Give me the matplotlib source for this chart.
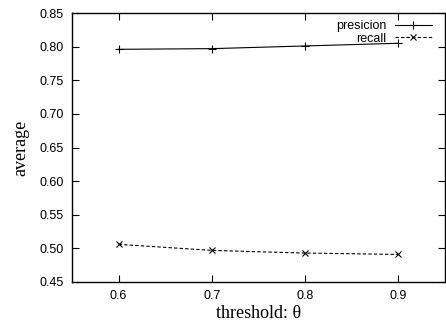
import matplotlib
matplotlib.use("Agg")
import matplotlib.pyplot as plt

thresholds = [0.6, 0.7, 0.8, 0.9]
precision = [0.796, 0.797, 0.801, 0.805]
recall = [0.506, 0.497, 0.493, 0.491]
xticks = [0.6, 0.7, 0.8, 0.9]
yticks = [0.45, 0.50, 0.55, 0.60, 0.65, 0.70, 0.75, 0.80, 0.85]

fig = plt.figure(figsize=(4.46, 3.27), dpi=100)
ax = fig.add_axes([72/446, 1-282/327, (445-72)/446, (282-13)/327])

ax.plot(thresholds, precision, color='black', lw=0.8, marker='+', ms=6, mew=0.8, label='presicion')
ax.plot(thresholds, recall, color='black', lw=0.8, ls=(0, (3, 2)), marker='x', ms=4.5, mew=0.8, label='recall')

ax.set_xlim(0.55, 0.95)
ax.set_ylim(0.45, 0.85)
ax.set_xticks(xticks)
ax.set_xticklabels([f"{v:.1f}" for v in xticks])
ax.set_yticks(yticks)
ax.set_yticklabels([f"{v:.2f}" for v in yticks])
ax.tick_params(direction='in', top=True, right=True, length=5, width=0.8,
               labelsize=9, pad=6)
for lab in ax.get_xticklabels() + ax.get_yticklabels():
    lab.set_fontfamily('Liberation Sans')
for s in ax.spines.values():
    s.set_linewidth(1.0)

ax.set_xlabel('threshold: θ', fontfamily='Liberation Serif', fontsize=13, labelpad=2)
ax.set_ylabel('average', fontfamily='Liberation Serif', fontsize=13, labelpad=7)

leg = ax.legend(loc='upper right', bbox_to_anchor=(0.979, 0.993), frameon=False, markerfirst=False,
                prop={'family': 'Liberation Sans', 'size': 9},
                handlelength=3.0, handletextpad=0.65, labelspacing=0.05,
                borderaxespad=0.0, alignment='right')

fig.savefig('out.png', dpi=100)
